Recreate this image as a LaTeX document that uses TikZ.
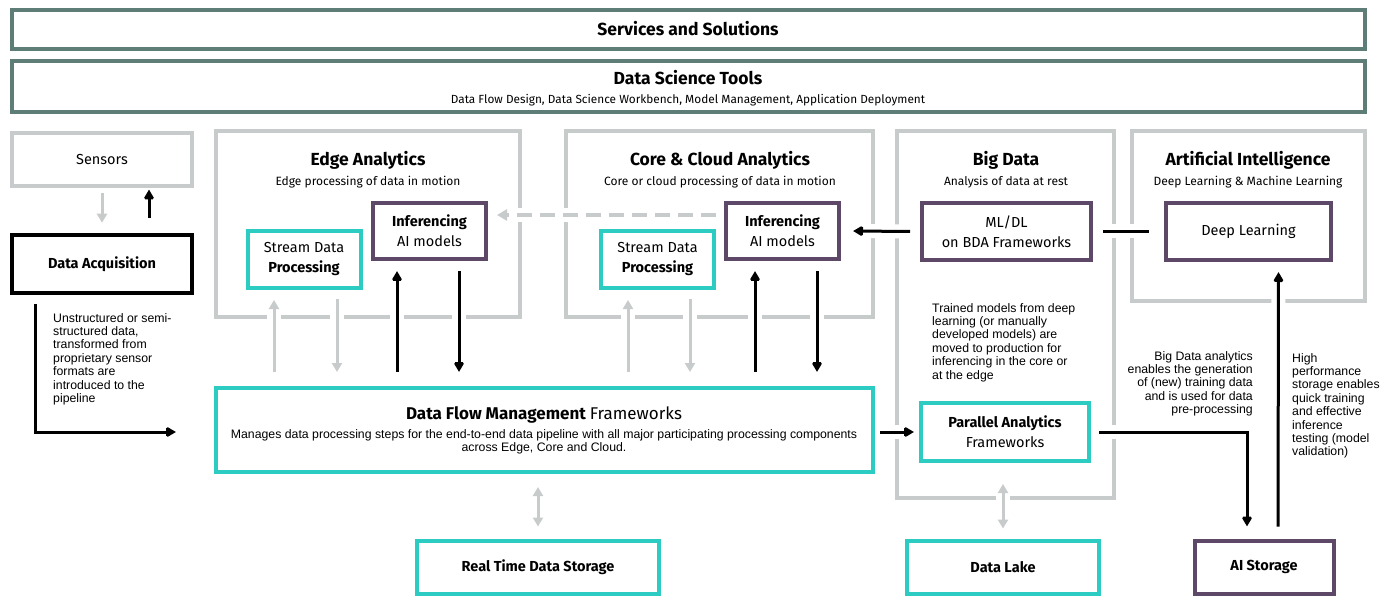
\documentclass[tikz,border=0pt]{standalone}
\usepackage{fontspec}
\setmainfont{Fira Sans}
\newfontfamily\notefamily{Liberation Sans}
\usetikzlibrary{arrows.meta}

\definecolor{hpeSlate}{HTML}{5F7D77}
\definecolor{hpeGrey}{HTML}{C8CBCC}
\definecolor{hpeTeal}{HTML}{2DCCC3}
\definecolor{hpePlum}{HTML}{5E4868}

\tikzset{
  slatebox/.style={draw=hpeSlate, line width=3.5pt, inner sep=0pt},
  greybox/.style={draw=hpeGrey, line width=4pt, inner sep=0pt},
  tealbox/.style={draw=hpeTeal, line width=4pt, align=center, font=\boxfont, inner sep=0pt},
  plumbox/.style={draw=hpePlum, line width=4pt, align=center, font=\boxfont, inner sep=0pt},
  blackbox/.style={draw=black, line width=4.5pt, align=center, inner sep=0pt},
  headtext/.style={font=\headfont, inner sep=0pt},
  subtext/.style={font=\subfont, inner sep=0pt},
  notetext/.style={font=\notefont, inner sep=0pt},
  blkarr/.style={draw=black, line width=3pt, -{Triangle[length=10pt,width=11pt]}, miter limit=2},
  greyarr/.style={draw=hpeGrey, line width=3pt, -{Triangle[length=9pt,width=10pt]}},
  greydbl/.style={draw=hpeGrey, line width=3pt, {Triangle[length=9pt,width=10pt]}-{Triangle[length=9pt,width=10pt]}},
  dasharr/.style={draw=hpeGrey, line width=3.5pt, dash pattern=on 15pt off 8pt, -{Triangle[length=10pt,width=11pt]}},
  blkline/.style={draw=black, line width=3pt},
  cutgap/.style={preaction={draw=white, line width=14pt, -, solid}},
}
\newcommand\headfont{\fontsize{17.5}{20}\selectfont\bfseries}
\newcommand\subfont{\fontsize{12}{14}\selectfont}
\newcommand\boxfont{\fontsize{14.5}{20}\selectfont}
\newcommand\notefont{\notefamily\fontsize{12.3}{13.4}\selectfont}

\begin{document}
\begin{tikzpicture}[x=1pt,y=-1pt]
\useasboundingbox (0,0) rectangle (1390,596);

% top bands
\node[slatebox, minimum width=1353pt, minimum height=39pt] (svc) at (688.5,29.5) {};
\node[headtext] (svcT) at (688,29) {Services and Solutions};
\node[slatebox, minimum width=1353pt, minimum height=51pt] (dst) at (688.5,86.5) {};
\node[headtext] (dstT) at (688,78) {Data Science Tools};
\node[subtext, font=\fontsize{11.8}{14}\selectfont] (dstS) at (688,100) {Data Flow Design, Data Science Workbench, Model Management, Application Deployment};

% sensors and acquisition
\node[greybox, font=\boxfont, minimum width=180pt, minimum height=53pt] (sens) at (102,160) {Sensors};
\node[blackbox, font=\boxfont\bfseries, minimum width=180pt, minimum height=58pt] (acq) at (102,264) {Data Acquisition};

% domain frames
\node[greybox, minimum width=304pt, minimum height=186pt] (edgeF) at (368,224) {};
\node[greybox, minimum width=307pt, minimum height=186pt] (coreF) at (719.5,224) {};
\node[greybox, minimum width=217pt, minimum height=367pt] (bigF) at (1005.5,314.5) {};
\node[greybox, minimum width=233pt, minimum height=170pt] (aiF) at (1248.5,216) {};

% frame titles
\node[headtext] (edgeT) at (368,160) {Edge Analytics};
\node[subtext] (edgeS) at (368,182) {Edge processing of data in motion};
\node[headtext] (coreT) at (720,160) {Core \& Cloud Analytics};
\node[subtext] (coreS) at (720,182) {Core or cloud processing of data in motion};
\node[headtext] (bigT) at (1006,160) {Big Data};
\node[subtext] (bigS) at (1006,182) {Analysis of data at rest};
\node[headtext] (aiT) at (1248,160) {Artificial Intelligence};
\node[subtext] (aiS) at (1248,182) {Deep Learning \& Machine Learning};

% inner components
\node[tealbox, minimum width=113pt, minimum height=57pt] (sdpE) at (304,259.5) {Stream Data\\\textbf{Processing}};
\node[plumbox, minimum width=113pt, minimum height=56pt] (infE) at (429.5,231) {\textbf{Inferencing}\\AI models};
\node[tealbox, minimum width=113pt, minimum height=57pt] (sdpC) at (657.5,259.5) {Stream Data\\\textbf{Processing}};
\node[plumbox, minimum width=113pt, minimum height=56pt] (infC) at (782.5,231) {\textbf{Inferencing}\\AI models};
\node[plumbox, minimum width=169pt, minimum height=57pt] (mldl) at (1006.5,231.5) {ML/DL\\on BDA Frameworks};
\node[plumbox, minimum width=165pt, minimum height=57pt] (dl) at (1248.5,231.5) {Deep Learning};
\node[tealbox, minimum width=168pt, minimum height=58pt] (par) at (1005,432) {\textbf{Parallel Analytics}\\Frameworks};

% data flow management
\node[tealbox, minimum width=657pt, minimum height=84pt] (dfm) at (544.5,430) {};
\node[headtext, font=\fontsize{17}{20}\selectfont\bfseries] (dfmT) at (544,415) {Data Flow Management \mdseries Frameworks};
\node[notetext, align=center] (dfmS) at (544,442) {Manages data processing steps for the end-to-end data pipeline with all major participating processing components\\across Edge, Core and Cloud.};

% storage
\node[tealbox, font=\boxfont\bfseries, minimum width=242pt, minimum height=53pt] (rtds) at (538,567) {Real Time Data Storage};
\node[tealbox, font=\boxfont\bfseries, minimum width=192pt, minimum height=53pt] (lake) at (1003,567) {Data Lake};
\node[plumbox, font=\boxfont\bfseries, minimum width=139pt, minimum height=53pt] (ais) at (1264,567) {AI Storage};

% notes
\node[notetext, align=left, anchor=north west] (noteAcq) at (53,313) {Unstructured or semi-\\structured data,\\transformed from\\proprietary sensor\\formats are\\introduced to the\\pipeline};
\node[notetext, align=left, anchor=north west] (noteBig) at (932,303) {Trained models from deep\\learning (or manually\\developed models) are\\moved to production for\\inferencing in the core or\\at the edge};
\node[notetext, align=right, anchor=north east] (noteGen) at (1253,351) {Big Data analytics\\enables the generation\\of (new) training data\\and is used for data\\pre-processing};
\node[notetext, align=left, anchor=north west] (noteHP) at (1292,353) {High\\performance\\storage enables\\quick training\\and effective\\inference\\testing (model\\validation)};

% sensors <-> acquisition
\draw[greyarr] ([yshift=-5pt]sens.south) -- ([yshift=10pt]acq.north);
\draw[blkarr] ([xshift=47pt,yshift=15pt]acq.north) -- ([xshift=47pt,yshift=-1pt]sens.south);
\draw[blkarr] ([xshift=26pt,yshift=-9pt]acq.south west) |- ([xshift=-38pt,yshift=-2pt]dfm.west);

% edge analytics flows
\draw[greyarr, cutgap] ([xshift=-30pt,yshift=14pt]sdpE.south |- dfm.north) -- ([xshift=-30pt,yshift=-10pt]sdpE.south);
\draw[greyarr, cutgap] ([xshift=33pt,yshift=-9pt]sdpE.south) -- ([xshift=33pt,yshift=14pt]sdpE.south |- dfm.north);
\draw[blkarr, cutgap] ([xshift=-32.5pt,yshift=14pt]infE.south |- dfm.north) -- ([xshift=-32.5pt,yshift=-10pt]infE.south);
\draw[blkarr, cutgap] ([xshift=29.5pt,yshift=-10pt]infE.south) -- ([xshift=29.5pt,yshift=14pt]infE.south |- dfm.north);

% core analytics flows
\draw[greyarr, cutgap] ([xshift=-29.5pt,yshift=14pt]sdpC.south |- dfm.north) -- ([xshift=-29.5pt,yshift=-10pt]sdpC.south);
\draw[greyarr, cutgap] ([xshift=32.5pt,yshift=-9pt]sdpC.south) -- ([xshift=32.5pt,yshift=14pt]sdpC.south |- dfm.north);
\draw[blkarr, cutgap] ([xshift=-27.5pt,yshift=14pt]infC.south |- dfm.north) -- ([xshift=-27.5pt,yshift=-10pt]infC.south);
\draw[blkarr, cutgap] ([xshift=34.5pt,yshift=-10pt]infC.south) -- ([xshift=34.5pt,yshift=14pt]infC.south |- dfm.north);

% model deployment from core to edge
\draw[dasharr, cutgap] ([xshift=-8pt,yshift=16pt]infC.west) -- ([xshift=9pt,yshift=16pt]infE.east);

% big data and AI links
\draw[blkarr, cutgap] ([xshift=-10pt]mldl.west) -- ([xshift=12pt]infC.east);
\draw[blkline, cutgap] ([xshift=10pt]mldl.east) -- ([xshift=-15pt]dl.west);
\draw[blkarr, cutgap] ([xshift=5pt]dfm.east |- par.west) -- ([xshift=-5pt]par.west);
\draw[blkarr, cutgap] ([xshift=8pt]par.east) -| ([xshift=-17pt,yshift=12pt]ais.north);
\draw[blkarr, cutgap] ([xshift=14pt,yshift=12pt]ais.north) -- ([xshift=30pt,yshift=-10pt]dl.south);

% storage links
\draw[greydbl] ([yshift=-13pt]rtds.north |- dfm.south) -- ([yshift=12pt]rtds.north);
\draw[greydbl, cutgap] ([yshift=-21pt]lake.north |- par.south) -- ([yshift=10pt]lake.north);

\end{tikzpicture}
\end{document}
